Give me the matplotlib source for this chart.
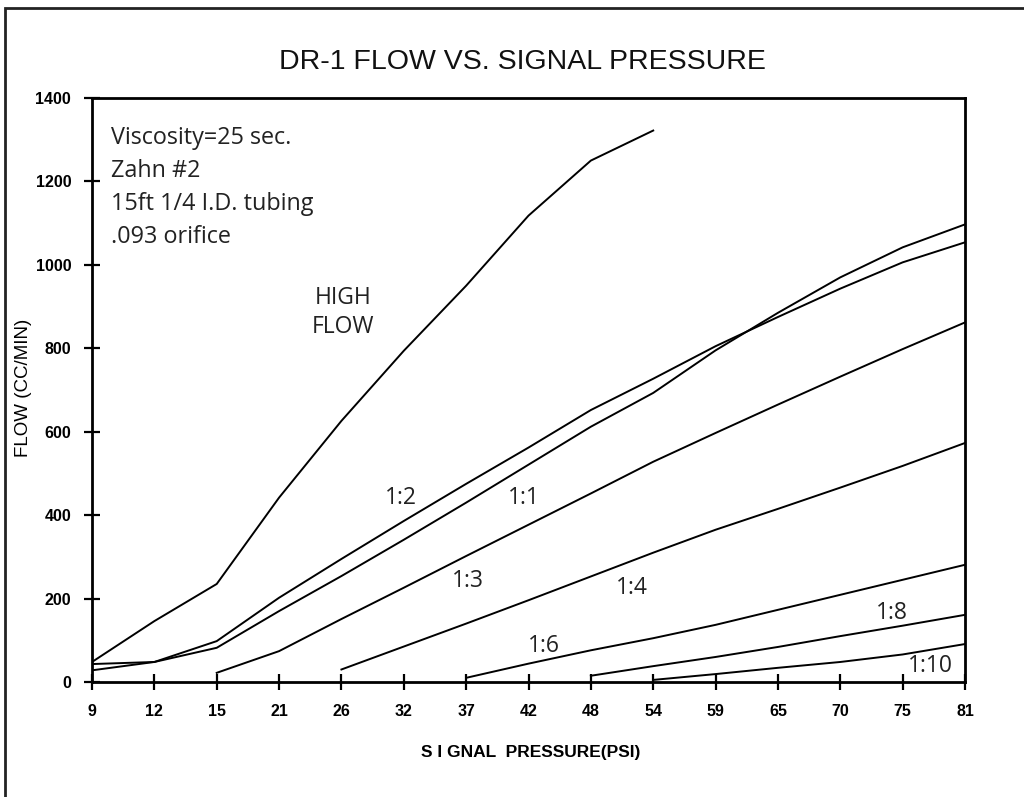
import matplotlib
matplotlib.use("Agg")
import matplotlib.pyplot as plt
from matplotlib.patches import Rectangle
from matplotlib.font_manager import FontProperties

# ---- data ----
psi_ticks = [9, 12, 15, 21, 26, 32, 37, 42, 48, 54, 59, 65, 70, 75, 81]
y_ticks = [0, 200, 400, 600, 800, 1000, 1200, 1400]

high_x = [9, 12, 15, 21, 26, 32, 37, 42, 48, 54]
high_y = [48, 146, 235, 442, 626, 794, 950, 1118, 1250, 1322]

r12_x = [9, 12, 15, 21, 26, 32, 37, 42, 48, 54, 59, 65, 70, 75, 81]
r12_y = [43, 48, 98, 202, 295, 386, 475, 562, 652, 727, 805, 875, 943, 1006, 1054]

r11_x = [9, 12, 15, 21, 26, 32, 37, 42, 48, 54, 59, 65, 70, 75, 81]
r11_y = [28, 48, 82, 170, 254, 341, 430, 521, 612, 693, 795, 885, 970, 1042, 1097]

r13_x = [15, 21, 26, 32, 37, 42, 48, 54, 59, 65, 70, 75, 81]
r13_y = [22, 74, 151, 226, 302, 377, 452, 528, 597, 665, 732, 798, 862]

r14_x = [26, 32, 37, 42, 48, 54, 59, 65, 70, 75, 81]
r14_y = [30, 85, 140, 196, 253, 310, 365, 415, 466, 518, 573]

r16_x = [37, 42, 48, 54, 59, 65, 70, 75, 81]
r16_y = [10, 44, 76, 105, 137, 173, 209, 245, 281]

r18_x = [48, 54, 59, 65, 70, 75, 81]
r18_y = [15, 38, 60, 84, 110, 135, 161]

r110_x = [54, 59, 65, 70, 75, 81]
r110_y = [5, 19, 34, 48, 66, 91]

series = [(high_x, high_y), (r12_x, r12_y), (r11_x, r11_y), (r13_x, r13_y),
          (r14_x, r14_y), (r16_x, r16_y), (r18_x, r18_y), (r110_x, r110_y)]

labels = ["HIGH\nFLOW", "1:2", "1:1", "1:3", "1:4", "1:6", "1:8", "1:10"]
label_pos = [(4.02, 886), (4.95, 442), (6.93, 442), (6.03, 242),
             (8.65, 226), (7.25, 86), (12.83, 166), (13.44, 38)]

notes = ["Viscosity=25 sec.", "Zahn #2", "15ft 1/4 I.D. tubing", ".093 orifice"]

def idx(xs):
    return [psi_ticks.index(v) for v in xs]

fig = plt.figure(figsize=(10.24, 7.97), dpi=100)
fig.patch.set_facecolor("white")

# outer border (extends past right and bottom edges)
fig.add_artist(Rectangle((5 / 1024, -0.05), 1.2, 1 - 8 / 797 + 0.05,
                         transform=fig.transFigure, fill=False,
                         edgecolor="#222222", linewidth=2))

ax = fig.add_axes([92 / 1024, 1 - 682 / 797, 873 / 1024, 584 / 797])
for xs, ys in series:
    ax.plot(idx(xs), ys, color="black", linewidth=1.4)

ax.set_xlim(0, 14)
ax.set_ylim(0, 1400)
ax.set_xticks(range(len(psi_ticks)))
ax.set_xticklabels([str(v) for v in psi_ticks])
ax.set_yticks(y_ticks)
ax.set_yticklabels([str(v) for v in y_ticks])
for s in ax.spines.values():
    s.set_linewidth(2)
    s.set_color("black")
ax.tick_params(direction="inout", length=12, width=1.6, color="black")
ax.tick_params(axis="x", pad=10)
ax.tick_params(axis="y", pad=9)
sans = ["Liberation Sans", "DejaVu Sans"]
tick_fp = FontProperties(family=sans, weight="bold", size=11.5)
for lab in ax.get_xticklabels() + ax.get_yticklabels():
    lab.set_fontproperties(tick_fp)

fig.text(522 / 1024, 1 - 62 / 797, "DR-1 FLOW VS. SIGNAL PRESSURE",
         ha="center", va="center", fontsize=20.5, family=sans,
         color="#111111")
fig.text(531 / 1024, 1 - 752 / 797, "S I GNAL  PRESSURE(PSI)",
         ha="center", va="center", fontsize=12.5, weight="bold", family=sans)
fig.text(24 / 1024, 1 - 388 / 797, "FLOW (CC/MIN)", rotation=90,
         ha="center", va="center", fontsize=13.5, family=sans)

txt_font = ["Open Sans", "DejaVu Sans"]
for i, line in enumerate(notes):
    fig.text(111 / 1024, 1 - (138 + 33 * i) / 797, line, ha="left", va="center",
             fontsize=16.8, family=txt_font, color="#222222")

for lab, (px, py) in zip(labels, label_pos):
    ax.text(px, py, lab, ha="center", va="center", fontsize=16.5,
            family=txt_font, color="#222222", linespacing=1.25)

fig.savefig("out.png", dpi=100, facecolor="white")
